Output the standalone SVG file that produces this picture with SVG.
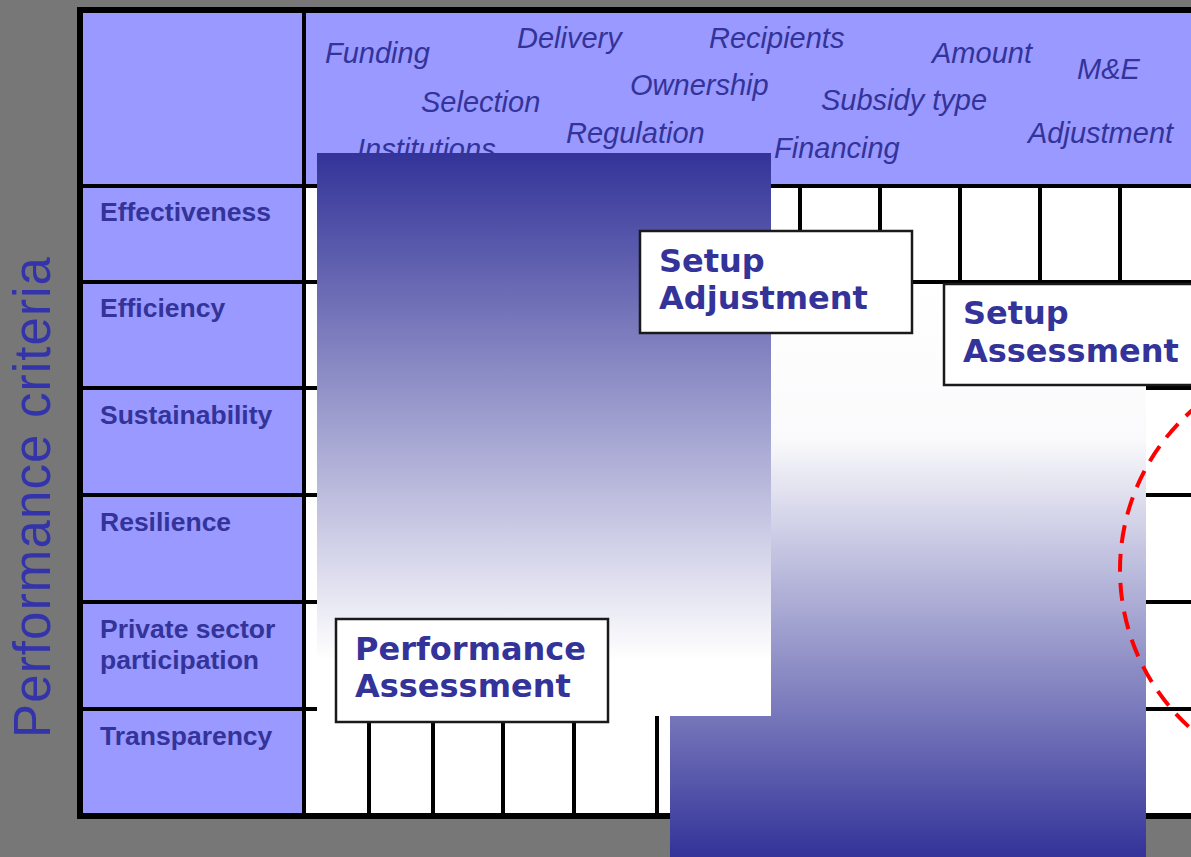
<svg xmlns="http://www.w3.org/2000/svg" width="1191" height="857" viewBox="0 0 1191 857">
  <style>
    .hdr { font-family: "Liberation Sans", Arial, sans-serif; font-style: italic; font-size: 29px; fill: #333399; }
    .row { font-family: "Liberation Sans", Arial, sans-serif; font-weight: bold; font-size: 26.5px; fill: #333399; }
    .box { fill: #ffffff; stroke: #1a1a1a; stroke-width: 2.5; }
    .boxtxt { font-family: "DejaVu Sans", Verdana, sans-serif; font-weight: bold; font-size: 32px; fill: #333399; }
    .grid { stroke: #000000; stroke-width: 4; fill: none; }
  </style>
  <defs>
    <linearGradient id="fadeDown" x1="0" y1="0" x2="0" y2="1">
      <stop offset="0" stop-color="#333399"/>
      <stop offset="0.9" stop-color="#ffffff"/>
      <stop offset="1" stop-color="#ffffff"/>
    </linearGradient>
    <linearGradient id="fadeUp" x1="0" y1="0" x2="0" y2="1">
      <stop offset="0" stop-color="#ffffff"/>
      <stop offset="0.27" stop-color="#fafafc"/>
      <stop offset="1" stop-color="#333399"/>
    </linearGradient>
  </defs>

  <!-- page background -->
  <rect x="0" y="0" width="1191" height="857" fill="#777777"/>

  <!-- vertical axis title -->
  <text transform="translate(50,738) rotate(-90)" font-family="'Liberation Sans', Arial, sans-serif" font-size="51" fill="#3333aa" textLength="481" lengthAdjust="spacing">Performance criteria</text>

  <!-- matrix table -->
  <g id="matrix">
    <rect x="80" y="10" width="1140" height="806" fill="#ffffff"/>
    <rect x="80" y="10" width="1140" height="176" fill="#9999ff"/>
    <rect x="80" y="186" width="224" height="630" fill="#9999ff"/>
    <!-- row separators -->
    <g class="grid">
      <line x1="80" y1="186" x2="1191" y2="186"/>
      <line x1="80" y1="282" x2="1191" y2="282"/>
      <line x1="80" y1="388" x2="1191" y2="388"/>
      <line x1="80" y1="495" x2="1191" y2="495"/>
      <line x1="80" y1="602" x2="1191" y2="602"/>
      <line x1="80" y1="709" x2="1191" y2="709"/>
      <line x1="304" y1="10" x2="304" y2="816"/>
      <!-- cell dividers, top row -->
      <line x1="800" y1="186" x2="800" y2="282"/>
      <line x1="880" y1="186" x2="880" y2="282"/>
      <line x1="960" y1="186" x2="960" y2="282"/>
      <line x1="1040" y1="186" x2="1040" y2="282"/>
      <line x1="1120" y1="186" x2="1120" y2="282"/>
      <!-- cell dividers, bottom row -->
      <line x1="369" y1="709" x2="369" y2="816"/>
      <line x1="433" y1="709" x2="433" y2="816"/>
      <line x1="503" y1="709" x2="503" y2="816"/>
      <line x1="574" y1="709" x2="574" y2="816"/>
      <line x1="657" y1="709" x2="657" y2="816"/>
    </g>
    <rect x="80" y="10" width="1140" height="806" fill="none" stroke="#000000" stroke-width="6"/>
  </g>

  <!-- setup dimension labels -->
  <g id="setup-dimensions">
    <text class="hdr" x="325" y="63">Funding</text>
    <text class="hdr" x="517" y="48">Delivery</text>
    <text class="hdr" x="709" y="48">Recipients</text>
    <text class="hdr" x="932" y="63">Amount</text>
    <text class="hdr" x="1077" y="79">M&amp;E</text>
    <text class="hdr" x="421" y="112">Selection</text>
    <text class="hdr" x="630" y="95">Ownership</text>
    <text class="hdr" x="821" y="110">Subsidy type</text>
    <text class="hdr" x="357" y="159">Institutions</text>
    <text class="hdr" x="566" y="143">Regulation</text>
    <text class="hdr" x="774" y="158">Financing</text>
    <text class="hdr" x="1028" y="143">Adjustment</text>
  </g>

  <!-- performance criteria labels -->
  <g id="criteria">
    <text class="row" x="100" y="221">Effectiveness</text>
    <text class="row" x="100" y="317">Efficiency</text>
    <text class="row" x="100" y="424">Sustainability</text>
    <text class="row" x="100" y="531">Resilience</text>
    <text class="row" x="100" y="638">Private sector</text>
    <text class="row" x="100" y="669">participation</text>
    <text class="row" x="100" y="745">Transparency</text>
  </g>

  <!-- gradient bands -->
  <rect id="band-setup" x="670" y="284" width="476" height="573" fill="url(#fadeUp)"/>
  <rect id="band-performance" x="317" y="153" width="454" height="563" fill="url(#fadeDown)"/>

  <g id="setup-adjustment">
    <rect class="box" x="640" y="231" width="272" height="102"/>
    <text class="boxtxt" x="659" y="272">Setup</text>
    <text class="boxtxt" x="659" y="309">Adjustment</text>
  </g>

  <g id="setup-assessment">
    <rect class="box" x="944" y="284" width="260" height="101"/>
    <text class="boxtxt" x="963" y="324">Setup</text>
    <text class="boxtxt" x="963" y="362">Assessment</text>
  </g>

  <g id="performance-assessment">
    <rect class="box" x="336" y="619" width="272" height="103"/>
    <text class="boxtxt" x="355" y="660">Performance</text>
    <text class="boxtxt" x="355" y="697">Assessment</text>
  </g>

  <!-- highlight ring -->
  <circle id="focus-ring" cx="1333" cy="570" r="213" fill="none" stroke="#ff0000" stroke-width="4" stroke-dasharray="18 11"/>
</svg>
